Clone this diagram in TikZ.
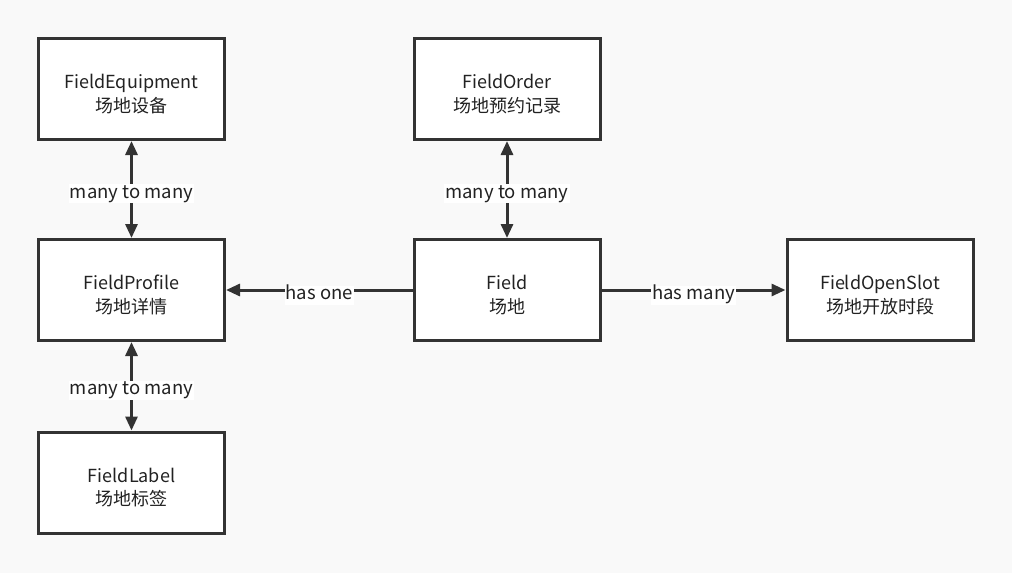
\documentclass[tikz,border=0pt]{standalone}
\usepackage{fontspec}
\setmainfont{Noto Sans CJK SC}
\usetikzlibrary{arrows.meta}
\definecolor{bg}{HTML}{F9F9F9}
\definecolor{ln}{HTML}{333333}
\definecolor{tx}{HTML}{222222}
\begin{document}
\begin{tikzpicture}[x=1pt,y=-1pt,
  ent/.style={draw=ln,line width=3pt,fill=white,minimum width=186pt,minimum height=101pt},
  etext/.style={align=center,text=tx,font=\fontsize{18}{23.5}\selectfont,inner sep=0pt},
  conn/.style={draw=ln,line width=3pt,-{Triangle[length=14pt,width=12pt]}},
  bidi/.style={draw=ln,line width=3pt,{Triangle[length=14pt,width=12pt]}-{Triangle[length=14pt,width=12pt]}},
  lab/.style={fill=white,text=tx,font=\fontsize{18.5}{20}\selectfont,inner sep=1pt,
    text height=13pt,text depth=4pt}]
\fill[bg] (0,0) rectangle (1012,573);
\useasboundingbox (0,0) rectangle (1012,573);
\node[ent] (eq) at (131.5,89) {};
\node[etext] at (131.5,94) {FieldEquipment\\场地设备};
\node[ent] (ord) at (507,89) {};
\node[etext] at (507,94) {FieldOrder\\场地预约记录};
\node[ent] (prof) at (131.5,290) {};
\node[etext] at (131.5,295) {FieldProfile\\场地详情};
\node[ent] (field) at (507,290) {};
\node[etext] at (507,295) {Field\\场地};
\node[ent] (slot) at (880,290) {};
\node[etext] at (880,295) {FieldOpenSlot\\场地开放时段};
\node[ent] (lbl) at (131.5,482.5) {};
\node[etext] at (131.5,487.5) {FieldLabel\\场地标签};
\draw[bidi] (eq) -- node[lab,yshift=-4pt]{many to many} (prof);
\draw[bidi] (prof) -- node[lab,yshift=-4pt]{many to many} (lbl);
\draw[bidi] (ord) -- node[lab,yshift=-4pt]{many to many} (field);
\draw[conn] (field) -- node[lab,yshift=-5pt]{has one} (prof);
\draw[conn] (field) -- node[lab,yshift=-5pt]{has many} (slot);
\end{tikzpicture}
\end{document}
